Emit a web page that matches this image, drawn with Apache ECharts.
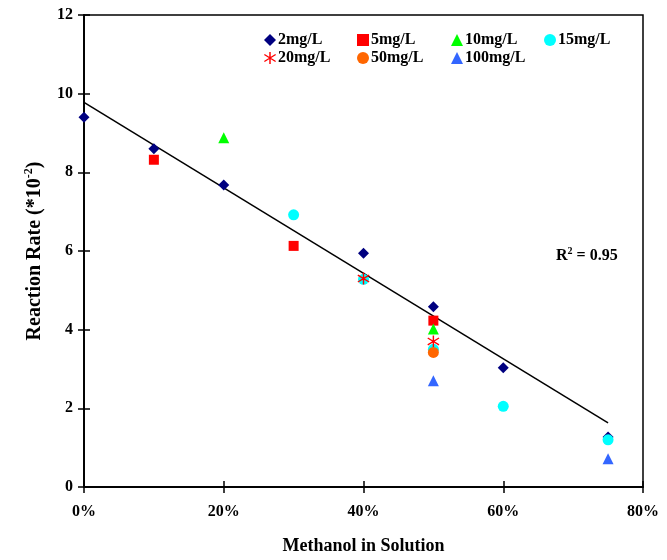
<!DOCTYPE html>
<html><head><meta charset="utf-8">
<script src="https://cdn.jsdelivr.net/npm/echarts@6/dist/echarts.min.js"></script>
<style>html,body{margin:0;padding:0;background:#fff}#c{width:667px;height:560px}</style>
</head><body><div id="c"></div>
<script>
const seriesNames = ['2mg/L','5mg/L','10mg/L','15mg/L','20mg/L','50mg/L','100mg/L'];
const s2mg   = [[0,9.4],[10,8.6],[20,7.68],[40,5.94],[50,4.58],[60,3.03],[75,1.27]];
const s5mg   = [[10,8.32],[30,6.13],[50,4.23]];
const s10mg  = [[20,8.88],[50,4.02]];
const s15mg  = [[30,6.92],[40,5.28],[50,3.5],[60,2.05],[75,1.2]];
const s20mg  = [[40,5.3],[50,3.7]];
const s50mg  = [[50,3.42]];
const s100mg = [[50,2.7],[75,0.72]];
const fitLine = [[0,9.78],[75,1.63]];
const xTicks = [0,20,40,60,80];
const yTicks = [0,2,4,6,8,10,12];

const asterisk = 'path://M4.4,0 L5.6,0 L5.6,10 L4.4,10 Z M0,2.6 L0.6,1.6 L10,7.4 L9.4,8.4 Z M0,7.4 L9.4,1.6 L10,2.6 L0.6,8.4 Z';
const styles = [
  {symbol:'diamond', size:11, color:'#000080'},
  {symbol:'rect', size:10, color:'#ff0000'},
  {symbol:'triangle', size:11, color:'#00ff00'},
  {symbol:'circle', size:11, color:'#00ffff'},
  {symbol:asterisk, size:12, color:'#ff0000'},
  {symbol:'circle', size:11, color:'#ff6600'},
  {symbol:'triangle', size:11, color:'#3366ff'}
];
const allData = [s2mg,s5mg,s10mg,s15mg,s20mg,s50mg,s100mg];
const legendPos = [[265,35],[358,35],[452,35],[545,35],[265,53],[358,53],[452,53]];
const font = 'Liberation Serif';

const chart = echarts.init(document.getElementById('c'));
const series = allData.map((d,i)=>({
  name: seriesNames[i], type:'scatter', data:d, symbol:styles[i].symbol, symbolSize:styles[i].size,
  itemStyle:{color:styles[i].color, opacity:1}, z:3+i
}));
series.unshift({type:'line', data:fitLine, symbol:'none', lineStyle:{color:'#000', width:1.5}, z:2, silent:true});
const legends = seriesNames.map((n,i)=>({
  data:[n], left:legendPos[i][0]-6, top:legendPos[i][1]-8, itemWidth:12, itemHeight:12, itemGap:0,
  textStyle:{fontFamily:font, fontWeight:'bold', fontSize:16, color:'#000', padding:[0,0,0,-3]}
}));
const axCommon = {
  axisLine:{show:true, onZero:false, lineStyle:{color:'#000', width:1.5}},
  splitLine:{show:false}
};
chart.setOption({
  animation:false,
  backgroundColor:'#fff',
  grid:{left:84, right:24, top:15, bottom:68, show:true, borderColor:'#000', borderWidth:1.5, backgroundColor:'transparent'},
  legend: legends,
  xAxis:[
    Object.assign({type:'value', min:0, max:80, interval:20, position:'bottom',
      axisTick:{show:true, length:6, inside:false, lineStyle:{color:'#000', width:1.5}},
      axisLabel:{formatter:'{value}%', margin:17, fontFamily:font, fontWeight:'bold', fontSize:16, color:'#000'},
      name:'Methanol in Solution', nameLocation:'middle', nameGap:50,
      nameTextStyle:{fontFamily:font, fontWeight:'bold', fontSize:18, color:'#000'}}, axCommon),
    Object.assign({type:'value', min:0, max:80, interval:20, position:'bottom',
      axisTick:{show:true, length:6, inside:true, lineStyle:{color:'#000', width:1.5}},
      axisLabel:{show:false}}, axCommon)
  ],
  yAxis:[
    Object.assign({type:'value', min:0, max:12, interval:2, position:'left',
      axisTick:{show:true, length:6, inside:false, lineStyle:{color:'#000', width:1.5}},
      axisLabel:{margin:11, fontFamily:font, fontWeight:'bold', fontSize:16, color:'#000'},
      name:'{t|Reaction Rate (*10}{s|-2}{t|)}', nameLocation:'middle', nameGap:37, nameRotate:90,
      nameTextStyle:{rich:{t:{fontFamily:font, fontWeight:'bold', fontSize:20, color:'#000', lineHeight:24},
                          s:{fontFamily:font, fontWeight:'bold', fontSize:12, color:'#000', verticalAlign:'top', lineHeight:24}}}}, axCommon),
    Object.assign({type:'value', min:0, max:12, interval:2, position:'left',
      axisTick:{show:true, length:6, inside:true, lineStyle:{color:'#000', width:1.5}},
      axisLabel:{show:false}}, axCommon)
  ],
  graphic:[{
    type:'text', left:556, top:246,
    style:{rich:{t:{fontFamily:font, fontWeight:'bold', fontSize:16, fill:'#000', lineHeight:20}, s:{fontFamily:font, fontWeight:'bold', fontSize:10, fill:'#000', verticalAlign:'top', lineHeight:20}},
      text:'{t|R}{s|2}{t| = 0.95}'}
  }],
  series: series
});
</script></body></html>
